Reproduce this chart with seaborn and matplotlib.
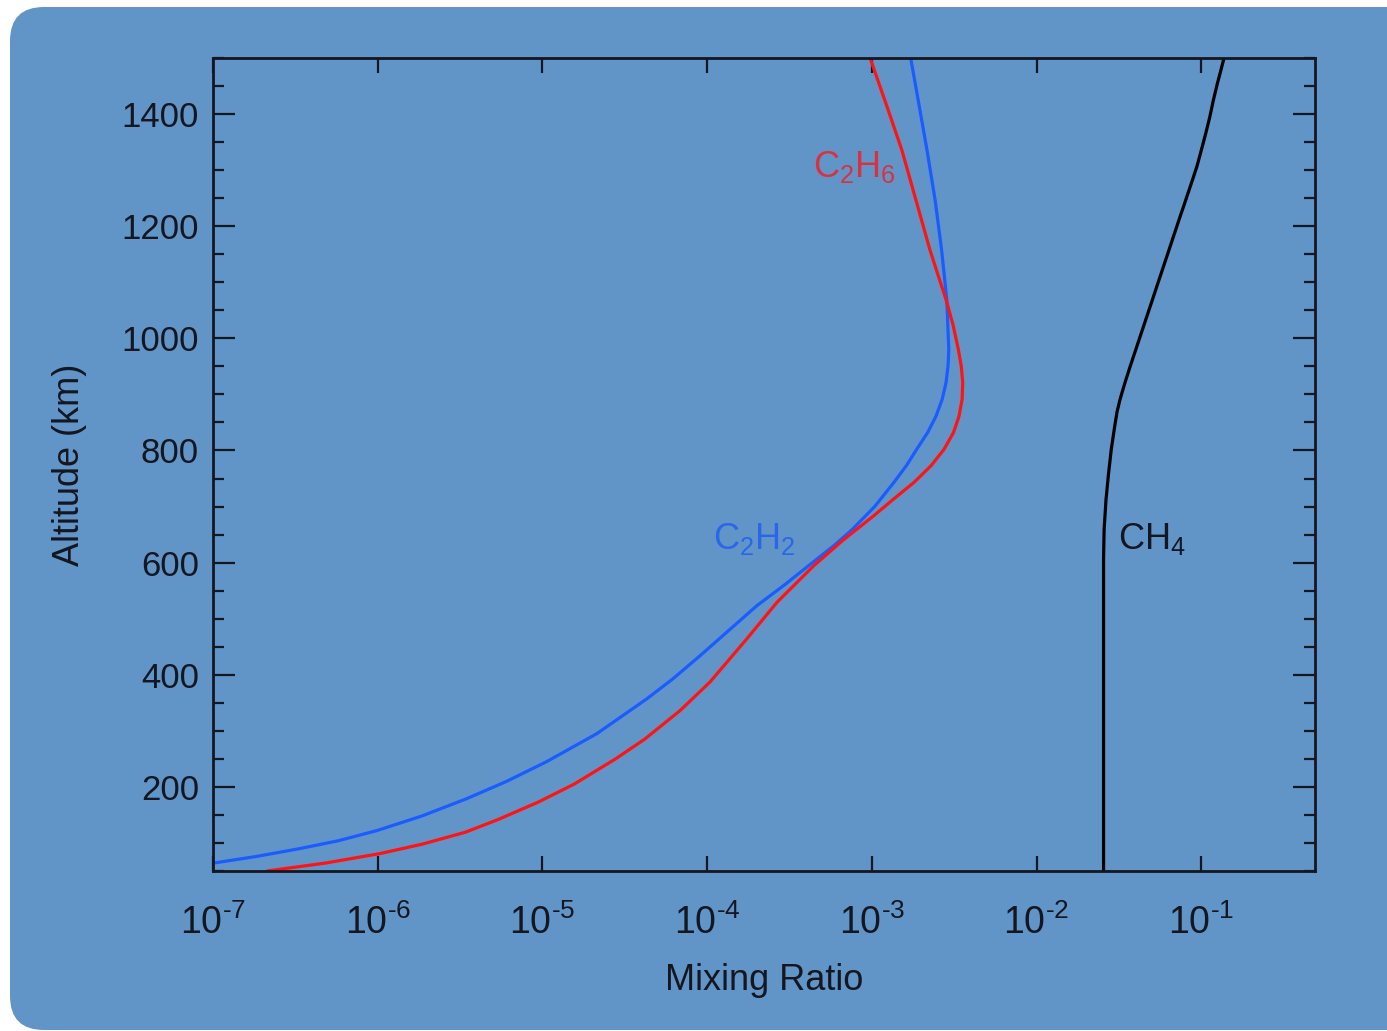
import numpy as np
import pandas as pd
import matplotlib
matplotlib.use("Agg")
import matplotlib.pyplot as plt
from matplotlib.patches import FancyBboxPatch
from matplotlib.ticker import FixedLocator, MultipleLocator, NullLocator
import seaborn as sns

# ---- data ----
c2h6_alt = [50, 64, 81, 98, 119, 141, 173, 205, 250, 285, 336, 387, 464, 529, 594, 640, 683, 713, 743, 773,
            802, 832, 861, 891, 921, 950, 980, 1024, 1069, 1113, 1158, 1247, 1336, 1418, 1500]
c2h6_mix = [2.13e-7, 4.78e-7, 1.03e-6, 1.87e-6, 3.39e-6, 5.30e-6, 9.45e-6, 1.56e-5, 2.78e-5, 4.17e-5, 6.84e-5,
            1.04e-4, 1.74e-4, 2.65e-4, 4.42e-4, 6.68e-4, 1.02e-3, 1.35e-3, 1.80e-3, 2.29e-3, 2.74e-3, 3.13e-3,
            3.38e-3, 3.53e-3, 3.56e-3, 3.49e-3, 3.35e-3, 3.11e-3, 2.82e-3, 2.52e-3, 2.25e-3, 1.85e-3, 1.52e-3,
            1.22e-3, 9.75e-4]

c2h2_alt = [64, 76, 90, 104, 122, 148, 179, 210, 245, 295, 357, 393, 434, 478, 523, 561, 601, 629, 659, 700,
            743, 773, 802, 832, 861, 891, 921, 951, 980, 1069, 1158, 1247, 1336, 1425, 1500]
c2h2_mix = [1.00e-7, 1.84e-7, 3.37e-7, 5.77e-7, 9.86e-7, 1.85e-6, 3.47e-6, 6.07e-6, 1.06e-5, 2.14e-5, 4.30e-5,
            6.21e-5, 9.06e-5, 1.34e-4, 2.00e-4, 2.97e-4, 4.40e-4, 5.81e-4, 7.59e-4, 1.04e-3, 1.36e-3, 1.62e-3,
            1.87e-3, 2.18e-3, 2.45e-3, 2.67e-3, 2.82e-3, 2.90e-3, 2.93e-3, 2.85e-3, 2.65e-3, 2.42e-3, 2.16e-3,
            1.91e-3, 1.72e-3]

ch4_alt = [50, 606, 659, 713, 757, 802, 846, 869, 891, 921, 950, 1039, 1128, 1217, 1247, 1277, 1306, 1336,
           1366, 1395, 1425, 1455, 1478, 1500]
ch4_mix = [0.0255, 0.0255, 0.0257, 0.0264, 0.0273, 0.0284, 0.0299, 0.0308, 0.0321, 0.0344, 0.0370, 0.0467,
           0.0589, 0.0743, 0.0805, 0.0871, 0.0939, 0.1001, 0.1065, 0.1126, 0.1184, 0.1253, 0.1314, 0.1374]

x_ticks = [1e-7, 1e-6, 1e-5, 1e-4, 1e-3, 1e-2, 1e-1]
x_ticklabels = ["$\\mathregular{10^{\u20107}}$", "$\\mathregular{10^{\u20106}}$", "$\\mathregular{10^{\u20105}}$",
                "$\\mathregular{10^{\u20104}}$", "$\\mathregular{10^{\u20103}}$", "$\\mathregular{10^{\u20102}}$",
                "$\\mathregular{10^{\u20101}}$"]
y_ticks = [200, 400, 600, 800, 1000, 1200, 1400]

# ---- style ----
BG = "#6195c8"
INK = "#14171f"
sns.set_theme(style="ticks")
plt.rcParams["font.family"] = ["Liberation Sans", "DejaVu Sans"]
plt.rcParams["mathtext.fontset"] = "custom"
plt.rcParams["mathtext.rm"] = "Liberation Sans"
plt.rcParams["mathtext.it"] = "Liberation Sans"
plt.rcParams["axes.unicode_minus"] = False

fig = plt.figure(figsize=(13.87, 10.31), dpi=100)
fig.patch.set_facecolor("white")
bg = FancyBboxPatch((10, 1), 1420, 1023, boxstyle="round,pad=0,rounding_size=34",
                    transform=None, facecolor=BG, edgecolor="none", zorder=-10)
fig.patches.append(bg)

ax = fig.add_axes([213 / 1387, 1 - 871 / 1031, (1315 - 213) / 1387, (871 - 58) / 1031])
ax.set_zorder(5)
ax.set_facecolor(BG)
ax.set_xscale("log")

df = pd.concat([
    pd.DataFrame({"mix": c2h2_mix, "alt": c2h2_alt, "gas": "C2H2"}),
    pd.DataFrame({"mix": c2h6_mix, "alt": c2h6_alt, "gas": "C2H6"}),
    pd.DataFrame({"mix": ch4_mix, "alt": ch4_alt, "gas": "CH4"}),
])
sns.lineplot(data=df, x="mix", y="alt", hue="gas", sort=False, estimator=None,
             palette={"C2H2": "#1a5cff", "C2H6": "#ff1414", "CH4": "#000000"},
             linewidth=2.3, legend=False, ax=ax)
for ln in ax.lines:
    ln.set_solid_joinstyle("round")

ax.set_xlim(1e-7, 0.49)
ax.set_ylim(50, 1500)

ax.xaxis.set_major_locator(FixedLocator(x_ticks))
ax.xaxis.set_minor_locator(NullLocator())
ax.set_xticks(x_ticks)
ax.set_xticklabels(x_ticklabels)
ax.yaxis.set_major_locator(FixedLocator(y_ticks))
ax.yaxis.set_minor_locator(MultipleLocator(50))

for s in ax.spines.values():
    s.set_linewidth(2.0)
    s.set_color(INK)
    s.set_visible(True)

ax.tick_params(axis="x", which="major", direction="in", length=11, width=1.6, color=INK,
               top=True, bottom=True, labelsize=27, labelcolor=INK, pad=24)
ax.tick_params(axis="y", which="major", direction="in", length=16, width=1.6, color=INK,
               left=True, right=True, labelsize=25, labelcolor=INK, pad=10)
ax.tick_params(axis="y", which="minor", direction="in", length=8, width=1.6, color=INK,
               left=True, right=True)

ax.set_xlabel("Mixing Ratio", fontsize=26, color=INK, labelpad=15)
ax.set_ylabel("Altitude (km)", fontsize=26, color=INK, labelpad=25)

ax.text(4.4e-4, 1288, r"C$_\mathregular{2}$H$_\mathregular{6}$", color="#d9323e", fontsize=26, va="baseline", ha="left")
ax.text(1.08e-4, 624, r"C$_\mathregular{2}$H$_\mathregular{2}$", color="#2a66ea", fontsize=26, va="baseline", ha="left")
ax.text(0.031, 624, r"CH$_\mathregular{4}$", color=INK, fontsize=26, va="baseline", ha="left")

fig.savefig("out.png", dpi=100, facecolor="white")
